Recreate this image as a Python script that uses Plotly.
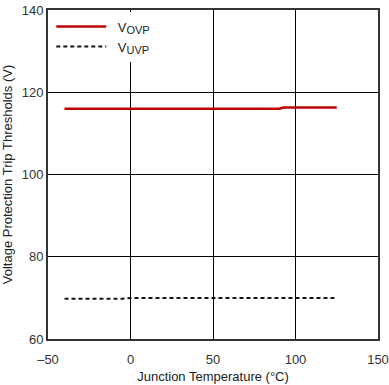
import plotly.graph_objects as go

temp_ovp = [-40, -20, 0, 25, 50, 75, 90, 93, 100, 125]
v_ovp = [116.0, 116.0, 116.0, 116.0, 116.0, 116.0, 116.0, 116.3, 116.3, 116.3]
temp_uvp = [-40, -20, -5, 0, 25, 50, 75, 100, 125]
v_uvp = [69.8, 69.8, 69.8, 70.0, 70.0, 70.0, 70.0, 70.0, 70.0]

x_ticks = [-50, 0, 50, 100, 150]
x_tick_labels = ["\u201350", "0", "50", "100", "150"]
y_ticks = [60, 80, 100, 120, 140]

fig = go.Figure()
fig.add_trace(go.Scatter(x=temp_ovp, y=v_ovp, mode="lines",
                         name="\u2002V<sub><span style='font-size:11px'>OVP</span></sub>",
                         line=dict(color="#C00000", width=2.5)))
fig.add_trace(go.Scatter(x=temp_uvp, y=v_uvp, mode="lines",
                         name="\u2002V<sub><span style='font-size:11px'>UVP</span></sub>",
                         line=dict(color="#111111", width=2, dash="4px,3px")))

axis_common = dict(showline=True, linecolor="#333333", linewidth=2, mirror=True,
                   showgrid=True, gridcolor="#000000", gridwidth=1, zeroline=False,
                   ticks="", automargin=False,
                   tickfont=dict(size=13, color="#333333"))

fig.update_xaxes(range=[-50, 150], tickvals=x_ticks, ticktext=x_tick_labels,
                 ticklabelstandoff=7,
                 title=dict(text="Junction Temperature (\u00b0C)", font=dict(size=13, color="#222222"), standoff=6),
                 **axis_common)
fig.update_yaxes(range=[60, 140], tickvals=y_ticks,
                 title=dict(text="Voltage Protection Trip Thresholds (V)", font=dict(size=13, color="#222222"), standoff=6),
                 **axis_common)

fig.update_layout(
    width=389, height=385,
    margin=dict(l=48, r=11, t=10, b=46),
    plot_bgcolor="white", paper_bgcolor="white",
    font=dict(family="Liberation Sans, Arial, sans-serif", size=13, color="#222222"),
    legend=dict(x=0.01, y=0.995, xanchor="left", yanchor="top",
                bgcolor="white", borderwidth=0, font=dict(size=13),
                itemwidth=50, tracegroupgap=0),
    showlegend=True,
)

fig.write_html("out.html", config={"displayModeBar": False},
               post_script="document.body.style.margin='0px';")
